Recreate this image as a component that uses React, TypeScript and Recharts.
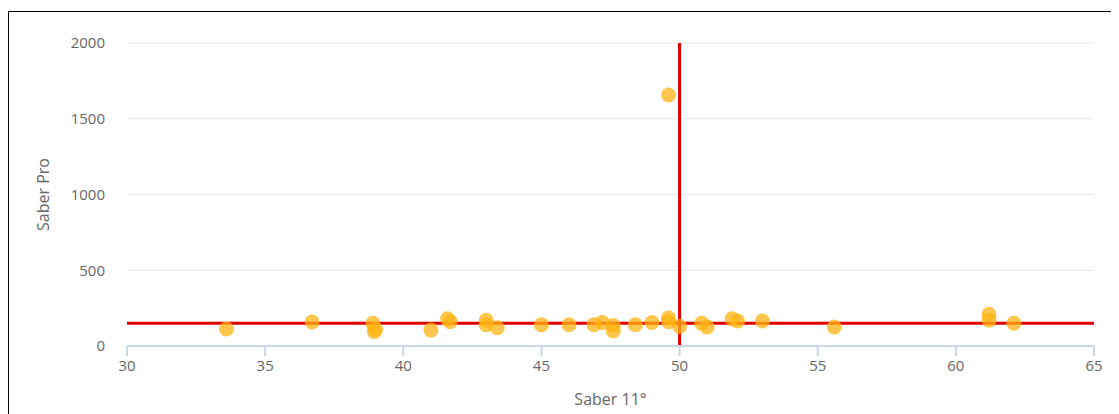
import { CartesianGrid, Label, ReferenceLine, Scatter, ScatterChart, XAxis, YAxis } from "recharts";

// Saber 11° score (x) vs Saber Pro score (y), one point per student group
const saber11 = [
  33.6, 36.7, 38.9, 39.0, 38.95, 41.0, 41.6, 41.7, 43.0, 43.0, 43.4, 45.0, 46.0, 46.9, 47.2,
  47.6, 47.6, 48.4, 49.0, 49.6, 49.6, 50.0, 50.8, 51.0, 51.9, 52.1, 53.0, 55.6, 61.2, 61.2,
  62.1, 49.6,
];
const saberPro = [
  112, 158, 150, 110, 95, 105, 180, 160, 170, 140, 120, 140, 140, 140, 155,
  135, 100, 140, 155, 185, 160, 130, 150, 125, 180, 165, 165, 125, 210, 170,
  150, 1657,
];

const xTicks = [30, 35, 40, 45, 50, 55, 60, 65];
const yTicks = [0, 500, 1000, 1500, 2000];
const cutX = 50;
const cutY = 150;

const points = saber11.map((x, i) => ({ x, y: saberPro[i] }));

const font = "'Open Sans', 'DejaVu Sans', sans-serif";
const tickStyle = { fontSize: 15, fill: "#666666", fontFamily: font };

const Dot = (props: any) => (
  <circle cx={props.cx} cy={props.cy} r={7.5} fill="#ffb311" fillOpacity={0.75} />
);

export default function App() {
  return (
    <div style={{ marginTop: 3, borderTop: "1px solid #000", borderLeft: "1px solid #000", width: 1111 }}>
      <ScatterChart width={1110} height={402} margin={{ top: 31, right: 25, left: 0, bottom: 0 }}>
        <CartesianGrid stroke="#e6e6e6" vertical={false} />
        <XAxis
          type="number"
          dataKey="x"
          domain={[30, 65]}
          ticks={xTicks}
          height={68}
          stroke="#ccd6eb"
          strokeWidth={2}
          tickSize={10}
          tickMargin={4}
          tick={tickStyle}
        >
          <Label
            content={({ viewBox }: any) => (
              <text
                x={viewBox.x + viewBox.width / 2}
                y={393}
                textAnchor="middle"
                fill="#666666"
                fontSize={16}
                fontFamily={font}
              >
                Saber 11°
              </text>
            )}
          />
        </XAxis>
        <YAxis
          type="number"
          dataKey="y"
          domain={[0, 2000]}
          ticks={yTicks}
          width={118}
          axisLine={false}
          tickLine={false}
          tickSize={0}
          tickMargin={22}
          tick={tickStyle}
        >
          <Label
            content={({ viewBox }: any) => {
              const cy = viewBox.y + viewBox.height / 2;
              return (
                <text
                  x={34}
                  y={cy}
                  transform={`rotate(-90 34 ${cy})`}
                  textAnchor="middle"
                  dominantBaseline="central"
                  fill="#666666"
                  fontSize={16}
                  fontFamily={font}
                >
                  Saber Pro
                </text>
              );
            }}
          />
        </YAxis>
        <ReferenceLine y={cutY} stroke="#e00000" strokeWidth={3} />
        <ReferenceLine x={cutX} stroke="#e00000" strokeWidth={3} />
        <Scatter data={points} shape={Dot} isAnimationActive={false} />
      </ScatterChart>
    </div>
  );
}
